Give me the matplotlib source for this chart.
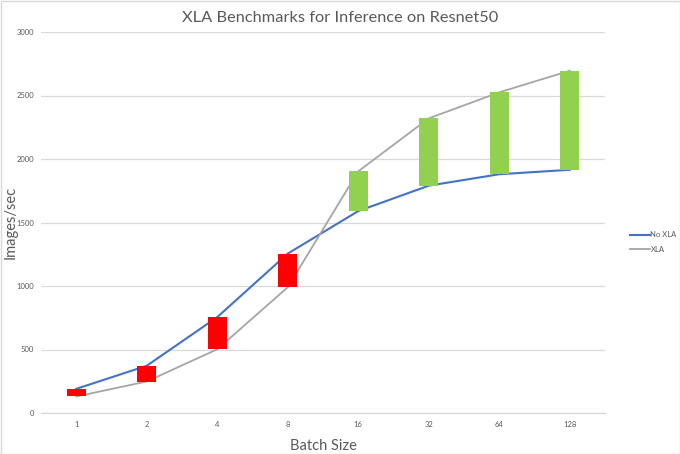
import matplotlib
matplotlib.use("Agg")
import matplotlib.pyplot as plt
from matplotlib.patches import Rectangle
import numpy as np

batch_sizes = ["1", "2", "4", "8", "16", "32", "64", "128"]
no_xla = [190, 372, 755, 1255, 1590, 1790, 1880, 1915]
xla = [130, 248, 502, 990, 1903, 2320, 2525, 2695]
y_ticks = [0, 500, 1000, 1500, 2000, 2500, 3000]

BLUE = "#4472C4"
GRAY = "#A5A5A5"
RED = "#FF0000"
GREEN = "#92D050"
GRID = "#D9D9D9"
TXT = "#595959"

plt.rcParams['font.family'] = ['Lato', 'DejaVu Sans']

fig = plt.figure(figsize=(6.8, 4.54), dpi=100)
ax = fig.add_axes([41/680, 1-413/454, (605-41)/680, (413-32)/454])

x = np.arange(len(batch_sizes))

ax.plot(x, no_xla, color=BLUE, lw=1.5, zorder=3, label="No XLA", solid_joinstyle="round")
ax.plot(x, xla, color=GRAY, lw=1.3, zorder=3, label="XLA", solid_joinstyle="round")

lo = np.minimum(no_xla, xla)
hi = np.maximum(no_xla, xla)
colors = [RED if a > b else GREEN for a, b in zip(no_xla, xla)]
ax.bar(x, hi - lo, bottom=lo, width=0.27, color=colors, zorder=4)

ax.set_xlim(-0.5, len(batch_sizes) - 0.5)
ax.set_ylim(0, 3000)
ax.set_yticks(y_ticks)
ax.set_yticklabels([str(v) for v in y_ticks])
ax.set_xticks(x)
ax.set_xticklabels(batch_sizes)
ax.tick_params(axis='both', length=0, labelsize=5.5, colors=TXT)
ax.tick_params(axis='x', pad=6)
ax.tick_params(axis='y', pad=5)
ax.grid(axis='y', color=GRID, lw=0.9, zorder=0)
ax.set_axisbelow(True)
for s in ["top", "right", "left"]:
    ax.spines[s].set_visible(False)
ax.spines["bottom"].set_color(GRID)
ax.spines["bottom"].set_linewidth(0.9)

ax.set_xlabel("Batch Size", fontsize=10.5, color=TXT, labelpad=8)
fig.text(11/680, 1-222/454, "Images/sec", rotation=90, ha="center", va="center",
         fontsize=10.5, color=TXT)
fig.text(340/680, 1-18/454, "XLA Benchmarks for Inference on Resnet50", ha="center", va="center",
         fontsize=11.8, color=TXT)

handles, labels = ax.get_legend_handles_labels()
fig.legend(handles, labels, loc="center left", bbox_to_anchor=(626/680, 1-242/454),
           frameon=False, fontsize=5.5, labelcolor=TXT, handlelength=2.6, handletextpad=0.1,
           labelspacing=1.0, borderpad=0)

fig.patches.append(Rectangle((0.5/680, 0.5/454), 1-1/680, 1-1/454, transform=fig.transFigure,
                             fill=False, edgecolor=GRID, lw=1))

fig.savefig("out.png", dpi=100)
